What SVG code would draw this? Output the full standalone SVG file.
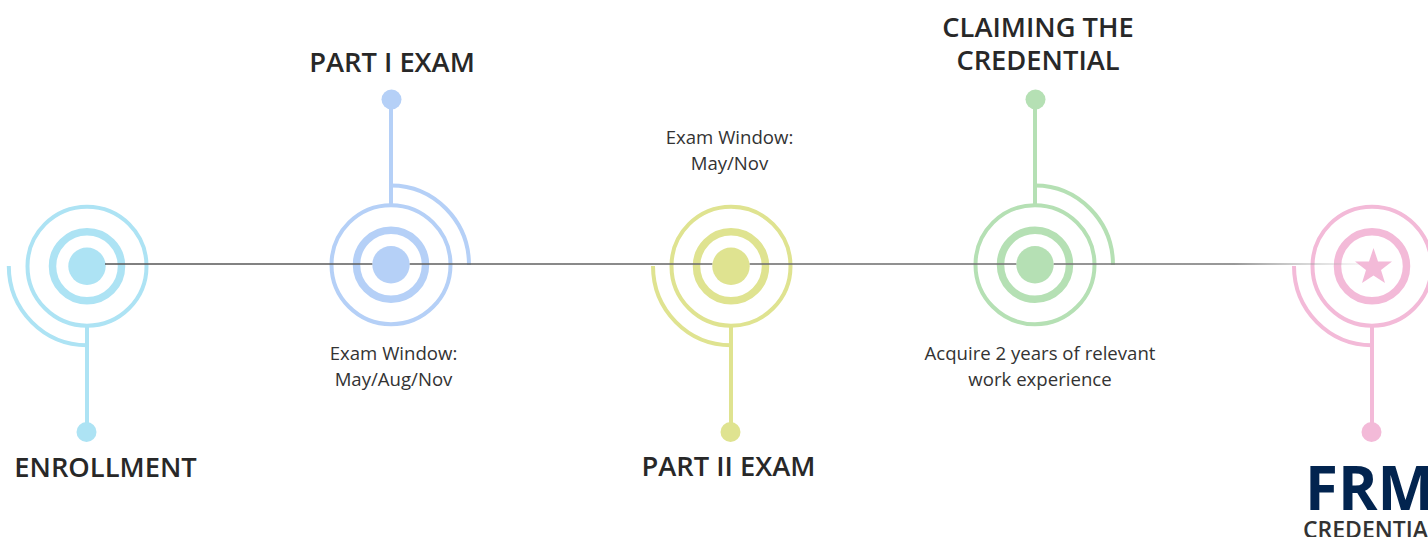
<svg xmlns="http://www.w3.org/2000/svg" width="1428" height="537" viewBox="0 0 1428 537">
<style>
text{font-family:"Open Sans","Noto Sans","DejaVu Sans",sans-serif;text-anchor:middle}
.t{font-size:27.3px;font-weight:600;fill:#282828}
.s{font-size:18.6px;fill:#333}
.o,.m,.a,.v{fill:none}
.o{stroke-width:4px}.m{stroke-width:7.500px}.a{stroke-width:4px}.v{stroke-width:4px}
.blue{stroke:#ade3f4}.blue2{fill:#ade3f4}
.peri{stroke:#b5d0f7}.peri2{fill:#b5d0f7}
.lime{stroke:#dfe390}.lime2{fill:#dfe390}
.green{stroke:#b5e0b4}.green2{fill:#b5e0b4}
.pink{stroke:#f3bad8}.pink2{fill:#f3bad8}
</style>
<defs><linearGradient id="g" gradientUnits="userSpaceOnUse" x1="105" y1="0" x2="1360" y2="0"><stop offset="0" stop-color="#555"/><stop offset=".9" stop-color="#777"/><stop offset="1" stop-color="#aaa" stop-opacity=".15"/></linearGradient></defs>
<g id="enrollment">
<circle class="o blue" cx="87" cy="266.200" r="59.500"/><circle class="m blue" cx="87" cy="266.200" r="34.500"/><circle class="blue2" cx="87" cy="266.200" r="18.700"/>
<path class="a blue" d="M8.800 266C8.800 310 44 345.200 87 345.200"/><path class="v blue" d="M87 325V432"/><circle class="blue2" cx="86.500" cy="432" r="10"/>
<text class="t" x="105.500" y="477">ENROLLMENT</text></g>
<g id="part1">
<circle class="o peri" cx="391" cy="264.700" r="59.500"/><circle class="m peri" cx="391" cy="264.700" r="34.500"/><circle class="peri2" cx="391" cy="264.700" r="18.700"/>
<path class="a peri" d="M391 185.500C434 185.500 469 221 469 265"/><path class="v peri" d="M391 99V205"/><circle class="peri2" cx="391.500" cy="99.500" r="10"/>
<text class="t" x="392" y="71.500">PART I EXAM</text>
<text class="s" x="393.500" y="360">Exam Window:</text><text class="s" x="393.500" y="386">May/Aug/Nov</text></g>
<g id="part2">
<circle class="o lime" cx="731" cy="266.200" r="59.500"/><circle class="m lime" cx="731" cy="266.200" r="34.500"/><circle class="lime2" cx="731" cy="266.200" r="18.700"/>
<path class="a lime" d="M653 266C653 310 688 345.200 731 345.200"/><path class="v lime" d="M731 325V432"/><circle class="lime2" cx="730.500" cy="432" r="10"/>
<text class="t" x="728.500" y="476">PART II EXAM</text>
<text class="s" x="729.500" y="144">Exam Window:</text><text class="s" x="729.500" y="170">May/Nov</text></g>
<g id="claiming">
<circle class="o green" cx="1035" cy="264.700" r="59.500"/><circle class="m green" cx="1035" cy="264.700" r="34.500"/><circle class="green2" cx="1035" cy="264.700" r="18.700"/>
<path class="a green" d="M1035 185.500C1078 185.500 1113 221 1113 265"/><path class="v green" d="M1035 99V205"/><circle class="green2" cx="1035.500" cy="99.500" r="10"/>
<text class="t" x="1038" y="37">CLAIMING THE</text><text class="t" x="1038" y="70">CREDENTIAL</text>
<text class="s" x="1040" y="360">Acquire 2 years of relevant</text><text class="s" x="1040" y="386">work experience</text></g>
<g id="credential">
<circle class="o pink" cx="1372" cy="266.200" r="59.500"/><circle class="m pink" cx="1372" cy="266.200" r="34.500"/>
<polygon class="pink2" points="1373.500,248 1378,261.500 1392,261.500 1381,270 1385,283 1373.500,275.500 1362,283 1366,270 1355,261.500 1369,261.500"/>
<path class="a pink" d="M1294 266C1294 310 1329 345.200 1372 345.200"/><path class="v pink" d="M1372 325V432"/><circle class="pink2" cx="1371.500" cy="432" r="10"/>
<text x="1305" y="510" style="font-size:60px;font-weight:700;fill:#02244f;text-anchor:start">FRM</text>
<text x="1303" y="538" style="font-size:23px;font-weight:600;fill:#333;text-anchor:start">CREDENTIA</text></g>
<g id="connectors"><path d="M105 264H372.300M409.700 264H712.300M749.700 264H1016.300M1053.700 264H1360" fill="none" stroke="url(#g)" stroke-width="1.500"/></g>
</svg>
